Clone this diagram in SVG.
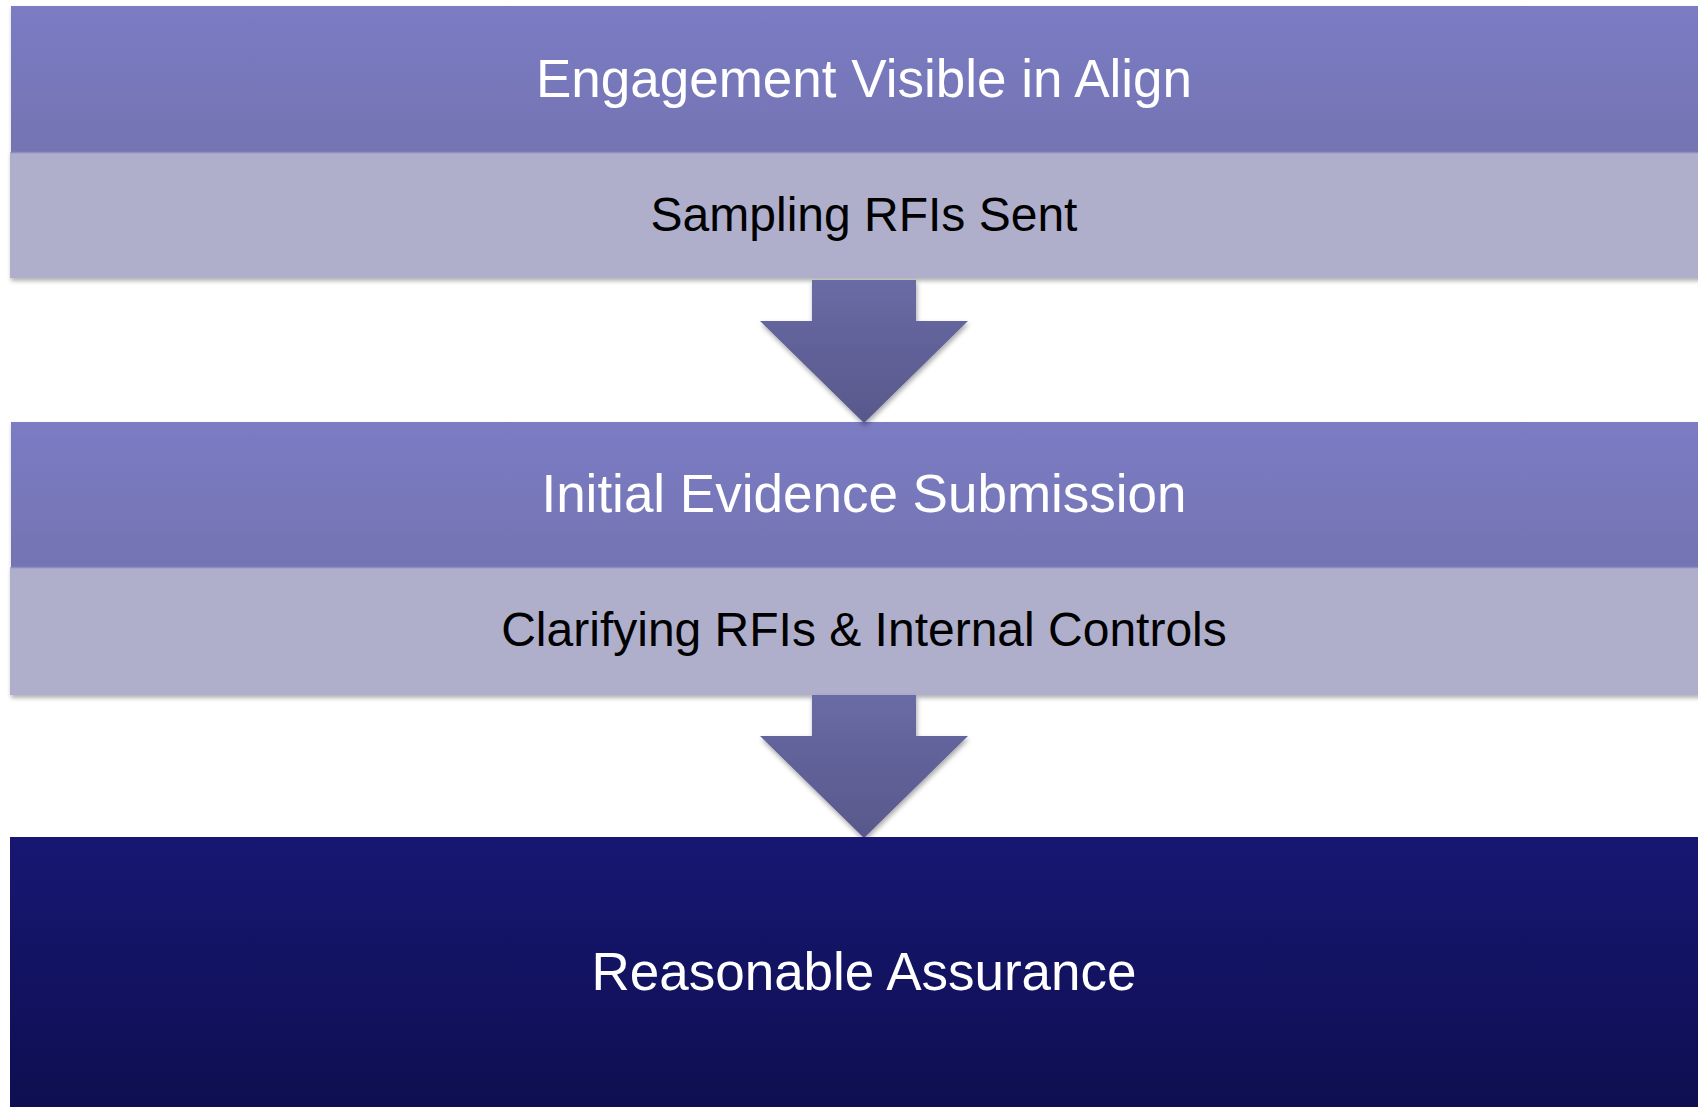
<svg xmlns="http://www.w3.org/2000/svg" width="1698" height="1107" viewBox="0 0 1698 1107">
  <defs>
    <linearGradient id="hdrGrad" x1="0" y1="0" x2="0" y2="1">
      <stop offset="0" stop-color="#7b7bc4"/>
      <stop offset="1" stop-color="#7474b3"/>
    </linearGradient>
    <linearGradient id="arrowGrad" x1="0" y1="0" x2="0" y2="1">
      <stop offset="0" stop-color="#6a6aa5"/>
      <stop offset="1" stop-color="#58588c"/>
    </linearGradient>
    <linearGradient id="finalGrad" x1="0" y1="0" x2="0" y2="1">
      <stop offset="0" stop-color="#171773"/>
      <stop offset="1" stop-color="#0e0e50"/>
    </linearGradient>
    <filter id="shadow" x="-5%" y="-10%" width="110%" height="130%">
      <feDropShadow dx="1" dy="3" stdDeviation="2" flood-color="#000" flood-opacity="0.3"/>
    </filter>
    <filter id="arrowShadow" x="-20%" y="-20%" width="140%" height="140%">
      <feDropShadow dx="1" dy="3" stdDeviation="2.5" flood-color="#000" flood-opacity="0.35"/>
    </filter>
  </defs>
  <style>
    .hdr { fill: url(#hdrGrad); }
    .band { fill: #afafcc; }
    .sep { stroke: #8c8cc8; stroke-width: 1.5; }
    .final { fill: url(#finalGrad); }
    .arrow { fill: url(#arrowGrad); filter: url(#arrowShadow); }
    .title { font-family: "Liberation Sans", Arial, sans-serif; font-size: 53px; fill: #ffffff; text-anchor: middle; }
    .sub { font-family: "Liberation Sans", Arial, sans-serif; font-size: 48px; fill: #000000; text-anchor: middle; }
  </style>

  <rect width="1698" height="1107" fill="#ffffff"/>

  <!-- Stage 1 -->
  <g id="stage-engagement" filter="url(#shadow)">
    <rect class="band" x="10" y="152" width="1720" height="126"/>
    <rect class="hdr" x="11" y="6" width="1720" height="147"/>
    <line class="sep" x1="11" y1="152.5" x2="1731" y2="152.5"/>
  </g>
  <g id="stage-engagement-text">
    <text class="title" x="864" y="97">Engagement Visible in Align</text>
    <text class="sub" x="864" y="231">Sampling RFIs Sent</text>
  </g>

  <!-- Stage 2 -->
  <g id="stage-evidence" filter="url(#shadow)">
    <rect class="band" x="10" y="567" width="1720" height="128"/>
    <rect class="hdr" x="11" y="422" width="1720" height="146"/>
    <line class="sep" x1="11" y1="567.5" x2="1731" y2="567.5"/>
  </g>
  <g id="stage-evidence-text">
    <text class="title" x="864" y="512">Initial Evidence Submission</text>
    <text class="sub" x="864" y="646">Clarifying RFIs &amp; Internal Controls</text>
  </g>

  <!-- Connectors: block arrows between stages -->
  <g id="connectors">
    <path class="arrow" d="M812 280 H916 V321 H968 L864 423 L760 321 H812 Z"/>
    <path class="arrow" d="M812 695 H916 V736 H968 L864 838 L760 736 H812 Z"/>
  </g>

  <!-- Outcome -->
  <g id="stage-assurance">
    <rect class="final" x="10" y="837" width="1720" height="280"/>
    <text class="title" x="864" y="990">Reasonable Assurance</text>
  </g>
</svg>
